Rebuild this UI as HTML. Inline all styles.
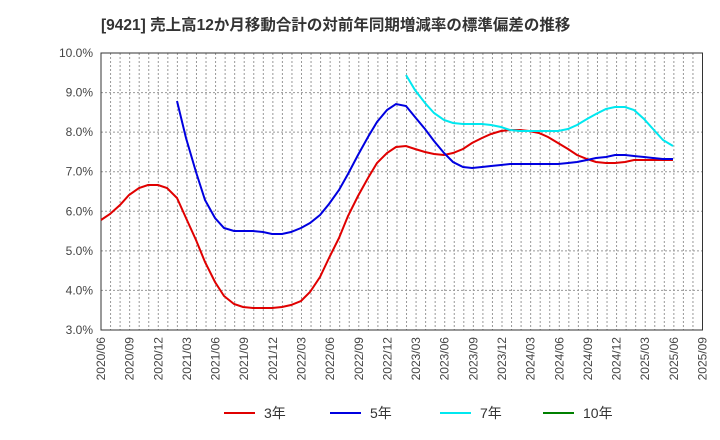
<html><body style="margin:0;background:#fff">
<svg width="720" height="440" xmlns="http://www.w3.org/2000/svg" font-family="Liberation Sans, Noto Sans CJK JP, sans-serif">
<text x="101" y="30" font-size="15.5" font-weight="bold" fill="#333" font-family="Liberation Sans, Noto Sans CJK JP, sans-serif">[9421]  売上高12か月移動合計の対前年同期増減率の標準偏差の推移</text>
<g id="grid" stroke="#999" stroke-width="1" stroke-dasharray="2,2"></g>
<rect x="101" y="53" width="601.5" height="277" fill="none" stroke="#333" stroke-width="1"/>
<g id="yl" font-size="12" fill="#444" text-anchor="end"></g>
<g id="xl" font-size="12" fill="#444"></g>
<polyline fill="none" stroke="#e00000" stroke-width="2" points="101,220 110,214 120,205 129,195 139,188 148,185 158,185 167,188 177,198 186,218 196,240 205,262 215,282 224,296 234,304 243,307 253,308 263,308 272,308 282,307 291,305 301,301 310,292 320,277 329,258 339,238 348,216 358,196 368,178 377,163 387,153 396,147 406,146 415,149 425,152 434,154 444,155 453,153 463,149 472,143 482,138 491,134 501,131 510,130 520,130 529,131 539,133 548,137 558,143 568,149 577,155 587,159 596,162 606,163 615,163 625,162 634,160 644,160 653,160 663,160 673,160"/>
<polyline fill="none" stroke="#0000e0" stroke-width="2" points="177,101 186,138 196,172 205,200 215,218 224,228 234,231 243,231 253,231 263,232 272,234 282,234 291,232 301,228 310,223 320,215 329,204 339,190 348,174 358,155 368,137 377,122 387,110 396,104 406,106 415,117 425,129 434,141 444,153 453,162 463,167 472,168 482,167 491,166 501,165 510,164 520,164 529,164 539,164 548,164 558,164 568,163 577,162 587,160 596,158 606,157 615,155 625,155 634,156 644,157 653,158 663,159 673,159"/>
<polyline fill="none" stroke="#00e8f0" stroke-width="2" points="406,75 415,90 425,103 434,113 444,120 453,123 463,124 472,124 482,124 491,125 501,127 510,130 520,131 529,131 539,131 548,131 558,131 568,129 577,125 587,119 596,114 606,109 615,107 625,107 634,110 644,119 653,129 663,140 673,146"/>
<g font-size="14" fill="#333">
<line x1="224" y1="413" x2="255" y2="413" stroke="#e00000" stroke-width="2"/><text x="264" y="418">3年</text>
<line x1="330" y1="413" x2="361" y2="413" stroke="#0000e0" stroke-width="2"/><text x="370" y="418">5年</text>
<line x1="440" y1="413" x2="471" y2="413" stroke="#00e8f0" stroke-width="2"/><text x="480" y="418">7年</text>
<line x1="543" y1="413" x2="574" y2="413" stroke="#008000" stroke-width="2"/><text x="583" y="418">10年</text>
</g>
</svg>
<script>
var ns="http://www.w3.org/2000/svg",g=document.getElementById('grid'),yl=document.getElementById('yl'),xl=document.getElementById('xl');
function el(t,a,p,txt){var e=document.createElementNS(ns,t);for(var k in a)e.setAttribute(k,a[k]);if(txt)e.textContent=txt;p.appendChild(e);}
for(var i=1;i<63;i++){var x=101+i*601.5/63;el('line',{x1:x,y1:53,x2:x,y2:330},g);}
for(var v=3;v<=10;v++){var y=330-(v-3)*277/7;if(v>3&&v<10)el('line',{x1:101,y1:y,x2:702,y2:y},g);el('text',{x:93,y:y+4},yl,v+'.0%');}
for(var q=0;q<22;q++){var m=q*3+5,yr=2020+Math.floor(m/12),mo=m%12+1,x=101+q*3*601.5/63;
el('text',{x:0,y:0,transform:'translate('+(x+4)+',337) rotate(-90)','text-anchor':'end'},xl,yr+'/'+(mo<10?'0':'')+mo);}
</script>
</body></html>
